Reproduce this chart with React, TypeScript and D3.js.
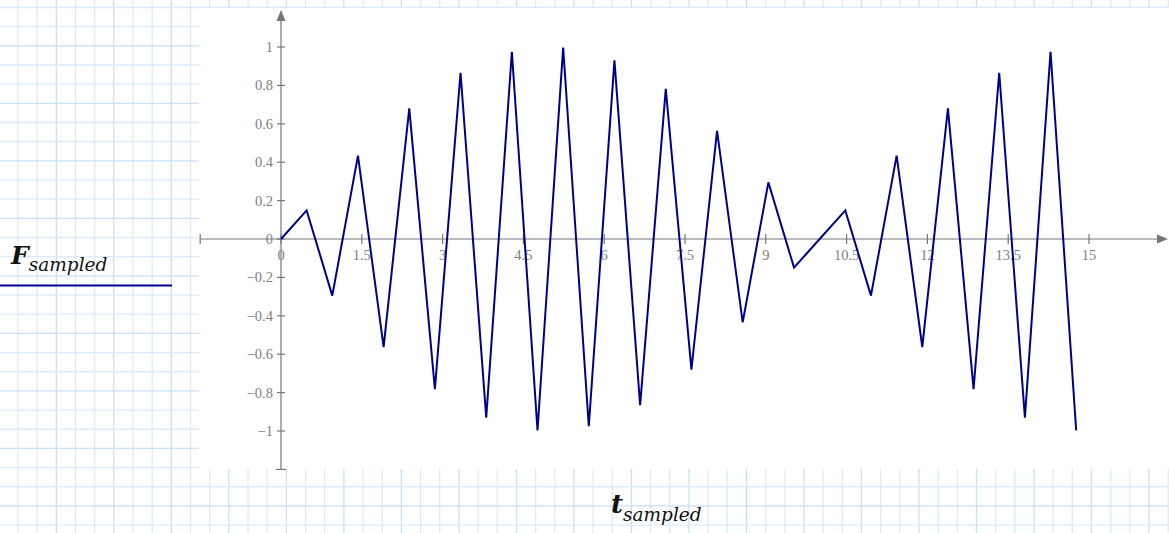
import React from 'react';
import * as d3 from 'd3';

// sampled points
const tSampled = [
  0, 0.476, 0.952, 1.429, 1.905, 2.381, 2.857, 3.333, 3.81, 4.286, 4.762,
  5.238, 5.714, 6.19, 6.667, 7.143, 7.619, 8.095, 8.571, 9.048, 9.524,
  10.0, 10.476, 10.952, 11.429, 11.905, 12.381, 12.857, 13.333, 13.81,
  14.286, 14.762,
];
const fSampled = [
  0, 0.149, -0.295, 0.434, -0.563, 0.68, -0.782, 0.866, -0.93, 0.975, -0.997,
  0.997, -0.975, 0.93, -0.866, 0.782, -0.68, 0.563, -0.434, 0.295, -0.149,
  0, 0.149, -0.295, 0.434, -0.563, 0.68, -0.782, 0.866, -0.93, 0.975, -0.997,
];
const xTicks = [0, 1.5, 3, 4.5, 6, 7.5, 9, 10.5, 12, 13.5, 15];
const yTicks = [-1, -0.8, -0.6, -0.4, -0.2, 0, 0.2, 0.4, 0.6, 0.8, 1];

const W = 1169;
const H = 533;
const AXIS = '#777';
const LINE = '#00008f';
const SERIF = '"Liberation Serif", "DejaVu Serif", serif';
const TITLE = '"DejaVu Serif", "Liberation Serif", serif';

const fmt = (v: number) => (v < 0 ? '\u2212' + String(Math.abs(v)) : String(v));

export default function App() {
  // plot frame (white paper area)
  const frame = { x0: 199, x1: 1169, y0: 8, y1: 469 };

  const x = d3.scaleLinear().domain([0, 15]).range([281, 1089]);
  const y = d3.scaleLinear().domain([-1, 1]).range([431, 47]);

  const line = d3
    .line<number>()
    .x((_, i) => x(tSampled[i]))
    .y((d) => y(d));

  // background grid
  const step = 19.17;
  const vLines = d3.range(18, W, step);
  const hLines = d3.range(7.5, H, step);

  const x0 = x(0);
  const y0 = y(0);
  const xLeft = x(-1.5);
  const xRight = W - 2;
  const yBottom = y(-1.2);
  const yTop = 10;

  return (
    <svg
      width={W}
      height={H}
      style={{ position: 'absolute', left: 0, top: 0, background: '#fff' }}
    >
      <g>
        {vLines.map((v, i) => (
          <line key={'v' + i} x1={v} x2={v} y1={0} y2={H} stroke={i % 3 === 2 ? '#c9e0fa' : '#dcebfc'} strokeWidth={1.3} />
        ))}
        {hLines.map((h, i) => (
          <line key={'h' + i} x1={0} x2={W} y1={h} y2={h} stroke={i % 3 === 2 ? '#c9e0fa' : '#dcebfc'} strokeWidth={1.3} />
        ))}
      </g>
      <rect x={frame.x0} y={frame.y0} width={frame.x1 - frame.x0} height={frame.y1 - frame.y0} fill="#fff" />

      {/* axes */}
      <g stroke={AXIS} strokeWidth={1.2}>
        <line x1={xLeft} x2={xRight - 8} y1={y0} y2={y0} />
        <line x1={x0} x2={x0} y1={yBottom} y2={yTop + 8} />
        <line x1={xLeft} x2={xLeft} y1={y0 - 5} y2={y0 + 5} />
        <line x1={x0 - 5} x2={x0 + 5} y1={yBottom} y2={yBottom} />
        {xTicks.map((t) => (
          <line key={'xt' + t} x1={x(t)} x2={x(t)} y1={y0 - 5} y2={y0 + 5} />
        ))}
        {yTicks.map((t) => (
          <line key={'yt' + t} x1={x0 - 4} x2={x0 + 4} y1={y(t)} y2={y(t)} />
        ))}
      </g>
      <path d={`M${x0},${yTop} L${x0 - 4.5},${yTop + 11} L${x0 + 4.5},${yTop + 11} Z`} fill={AXIS} />
      <path d={`M${xRight + 1},${y0} L${xRight - 10},${y0 - 4.5} L${xRight - 10},${y0 + 4.5} Z`} fill={AXIS} />

      <g fontFamily={SERIF} fontSize={14.5} fill="#808080">
        {xTicks.map((t) => (
          <text key={'xl' + t} x={x(t)} y={y0 + 21} textAnchor="middle">
            {fmt(t)}
          </text>
        ))}
        {yTicks.map((t) => (
          <text key={'yl' + t} x={x0 - 8} y={y(t) + 5} textAnchor="end">
            {fmt(t)}
          </text>
        ))}
      </g>

      <path d={line(fSampled) || ''} fill="none" stroke={LINE} strokeWidth={2} strokeLinejoin="miter" />

      {/* legend */}
      <text x={11} y={264} fontFamily={TITLE} fill="#111">
        <tspan fontSize={25} fontStyle="italic" fontWeight="bold">F</tspan>
        <tspan fontSize={18.5} fontStyle="italic" dy={7}>sampled</tspan>
      </text>
      <line x1={0} x2={172} y1={285.5} y2={285.5} stroke={LINE} strokeWidth={2} />

      {/* x-axis title */}
      <text x={611} y={513} fontFamily={TITLE} fill="#111">
        <tspan fontSize={26} fontStyle="italic" fontWeight="bold">t</tspan>
        <tspan fontSize={18.5} fontStyle="italic" dy={8}>sampled</tspan>
      </text>
    </svg>
  );
}
